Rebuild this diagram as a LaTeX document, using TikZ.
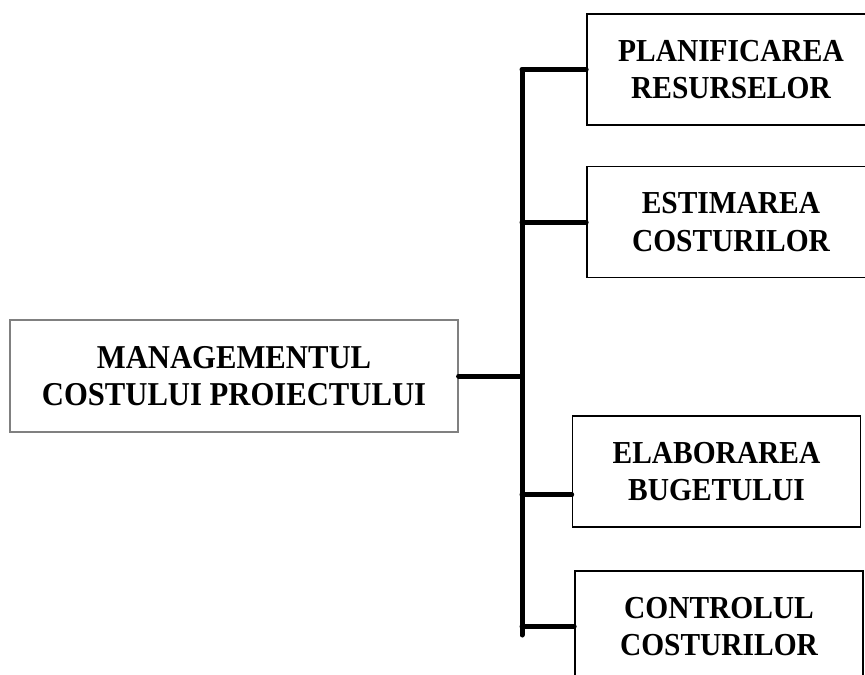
\documentclass[tikz,border=0pt]{standalone}
\usepackage{fontspec}
\setmainfont{Liberation Serif}[FakeStretch=0.92]

\tikzset{every picture/.style={line width=0.75pt}}
\tikzset{
  mainbox/.style={draw={rgb, 255:red, 128; green, 128; blue, 128}, line width=0.9pt,
    minimum width=336pt, minimum height=84pt, align=center, inner sep=0pt,
    font=\bfseries\fontsize{25}{28}\selectfont},
  stepbox/.style={draw, line width=1.2pt, minimum width=216pt, minimum height=83.25pt,
    align=center, inner sep=0pt, font=\bfseries\fontsize{24}{28}\selectfont},
  link/.style={line width=3.75pt, line cap=round}
}

\begin{document}
\begin{tikzpicture}[x=0.75pt,y=0.75pt,yscale=-1,xscale=1]
    \useasboundingbox (0,0) rectangle (865,675);
    \clip (0,0) rectangle (865,675);

    %Shape: Rectangle [main]
    \node[mainbox] (mgmt) at (234,376) {MANAGEMENTUL\\COSTULUI PROIECTULUI};
    %Shape: Rectangle [steps]
    \node[stepbox] (plan) at (731,69.5) {PLANIFICAREA\\RESURSELOR};
    \node[stepbox] (estim) at (731,222) {ESTIMAREA\\COSTURILOR};
    \node[stepbox] (buget) at (716.5,471.5) {ELABORAREA\\BUGETULUI};
    \node[stepbox] (control) at (719,626.5) {CONTROLUL\\COSTURILOR};

    % spine ends
    \coordinate (top) at (522,70);
    \coordinate (bot) at (522,635);
    \coordinate (bugetjoin) at ([yshift=-24.75pt]buget.south west);

    %Straight Lines [spine]
    \draw[link] (top) -- (bot);
    %Straight Lines [branches]
    \draw[link] (mgmt.east) -- (mgmt.east -| top);
    \draw[link] (plan.west -| top) -- (plan.west);
    \draw[link] (estim.west -| top) -- (estim.west);
    \draw[link] (bugetjoin -| top) -- (bugetjoin);
    \draw[link] (control.west -| top) -- (control.west);

\end{tikzpicture}
\end{document}
